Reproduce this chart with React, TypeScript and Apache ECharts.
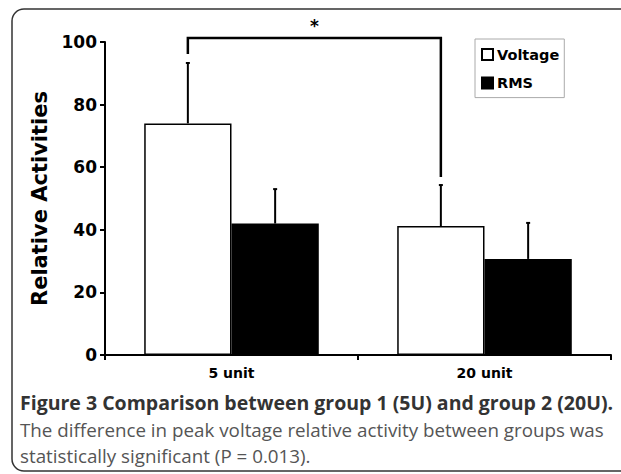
import React, { useEffect, useRef } from "react";
import * as echarts from "echarts";

const categories = ["5 unit", "20 unit"];
const seriesNames = ["Voltage", "RMS"];
const voltage = [74, 41.2];
const rms = [42, 30.7];
const voltageErrTop = [93.3, 54.3];
const rmsErrTop = [53, 42.2];
const bracketTop = 101.3;
const bracketEnds = [96.2, 56.9];
const yMin = 0;
const yMax = 100;
const yInterval = 20;
const captionLines = [
  "Figure 3 Comparison between group 1 (5U) and group 2 (20U).",
  "The difference in peak voltage relative activity between groups was",
  "statistically significant (P = 0.013).",
];

const CAT_GAP = 0.31;
const HEAVY = "DejaVu Sans";

export default function App() {
  const ref = useRef<HTMLDivElement>(null);
  useEffect(() => {
    if (!ref.current) return;
    const chart = echarts.init(ref.current, null, { renderer: "svg" });
    const barHalf = (api: any) => {
      const band = api.size([1, 0])[0];
      return (band * (1 - CAT_GAP)) / 2;
    };
    const errData: any[] = [];
    categories.forEach((_, i) => errData.push([i, voltage[i], voltageErrTop[i], -1]));
    categories.forEach((_, i) => errData.push([i, rms[i], rmsErrTop[i], 1]));

    chart.setOption({
      animation: false,
      backgroundColor: "#fff",
      grid: { left: 105, right: 10, top: 42, bottom: 119 },
      legend: {
        data: seriesNames,
        icon: "rect",
        orient: "vertical",
        left: 475,
        top: 39,
        padding: [8, 5, 7, 6],
        itemGap: 13.6,
        itemWidth: 11,
        itemHeight: 11,
        borderColor: "#aaa",
        borderWidth: 1,
        textStyle: { fontFamily: HEAVY, fontWeight: "bold", fontSize: 14.5, lineHeight: 15, color: "#000", padding: [0, 0, 0, -1] },
      },
      xAxis: {
        type: "category",
        data: categories,
        axisLine: { lineStyle: { color: "#000", width: 2 } },
        axisTick: { show: true, length: 5, lineStyle: { color: "#000", width: 2 } },
        axisLabel: { fontFamily: HEAVY, fontWeight: "bold", fontSize: 14, color: "#000", margin: 11 },
      },
      yAxis: {
        type: "value",
        min: yMin,
        max: yMax,
        interval: yInterval,
        name: "Relative Activities",
        nameLocation: "middle",
        nameGap: 50,
        nameTextStyle: { fontFamily: HEAVY, fontWeight: "bold", fontSize: 21, color: "#000" },
        splitLine: { show: false },
        axisLine: { show: true, lineStyle: { color: "#000", width: 2 } },
        axisTick: { show: true, length: 5, lineStyle: { color: "#000", width: 2 } },
        axisLabel: { fontFamily: HEAVY, fontWeight: "bold", fontSize: 17, color: "#000", margin: 8 },
      },
      series: [
        {
          name: seriesNames[0],
          type: "bar",
          data: voltage,
          barGap: "0%",
          barCategoryGap: "31%",
          itemStyle: { color: "#fff", borderColor: "#000", borderWidth: 1.5 },
        },
        {
          name: seriesNames[1],
          type: "bar",
          data: rms,
          barGap: "0%",
          barCategoryGap: "31%",
          itemStyle: { color: "#000", borderColor: "#000", borderWidth: 1.5 },
        },
        {
          type: "custom",
          z: 5,
          data: errData,
          renderItem: (params: any, api: any) => {
            const cat = api.value(0);
            const base = api.value(1);
            const top = api.value(2);
            const side = api.value(3);
            const hw = barHalf(api);
            const c0 = api.coord([cat, base]);
            const c1 = api.coord([cat, top]);
            const x = c0[0] + (side * hw) / 2;
            return {
              type: "group",
              children: [
                { type: "line", shape: { x1: x, y1: c0[1], x2: x, y2: c1[1] }, style: { stroke: "#000", lineWidth: 2 } },
                { type: "line", shape: { x1: x - 2, y1: c1[1], x2: x + 2, y2: c1[1] }, style: { stroke: "#000", lineWidth: 2 } },
              ],
            };
          },
        },
        {
          type: "custom",
          z: 6,
          clip: false,
          data: [[0, 1, bracketTop, bracketEnds[0], bracketEnds[1]]],
          renderItem: (params: any, api: any) => {
            const hw = barHalf(api);
            const a = api.value(0);
            const b = api.value(1);
            const top = api.value(2);
            const pTopA = api.coord([a, top]);
            const pTopB = api.coord([b, top]);
            const pEndA = api.coord([a, api.value(3)]);
            const pEndB = api.coord([b, api.value(4)]);
            const xa = pTopA[0] - hw / 2;
            const xb = pTopB[0] - hw / 2;
            return {
              type: "group",
              children: [
                {
                  type: "polyline",
                  shape: { points: [[xa, pEndA[1]], [xa, pTopA[1]], [xb, pTopB[1]], [xb, pEndB[1]]] },
                  style: { stroke: "#000", lineWidth: 2.5, fill: "none" },
                },
                {
                  type: "text",
                  style: {
                    text: "*",
                    x: (xa + xb) / 2,
                    y: pTopA[1] - 3,
                    align: "center",
                    verticalAlign: "bottom",
                    font: "bold 17px 'DejaVu Sans'",
                    fill: "#000",
                  },
                },
              ],
            };
          },
        },
      ],
      graphic: [
        {
          type: "rect",
          shape: { x: 12, y: 9, width: 680, height: 462, r: [12, 0, 0, 12] },
          style: { fill: "none", stroke: "#333", lineWidth: 1.5 },
          silent: true,
        },
        {
          type: "text",
          left: 20,
          top: 392,
          style: { text: captionLines[0], font: "bold 19.5px 'Open Sans'", fill: "#333" },
        },
        {
          type: "text",
          left: 20,
          top: 420,
          style: { text: captionLines[1], font: "18.8px 'Open Sans'", fill: "#555" },
        },
        {
          type: "text",
          left: 20,
          top: 446,
          style: { text: captionLines[2], font: "18.8px 'Open Sans'", fill: "#555" },
        },
      ],
    });
    return () => chart.dispose();
  }, []);
  return <div ref={ref} style={{ position: "fixed", left: 0, top: 0, width: 621, height: 474 }} />;
}
